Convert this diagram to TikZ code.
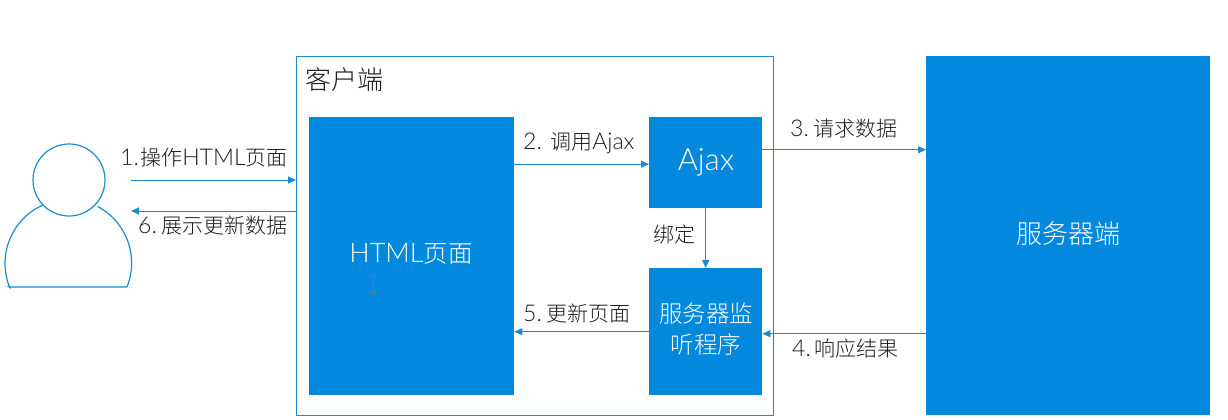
\documentclass[tikz,border=0pt]{standalone}
\usepackage{fontspec}
\setmainfont{Lato Light}[Scale=1.1]
\newfontfamily\cjk{Noto Sans CJK SC Light}
\usetikzlibrary{arrows.meta}
\definecolor{bluefill}{HTML}{0288DC}
\definecolor{blueline}{HTML}{1A8BD2}
\definecolor{ink}{HTML}{1C1C1C}
\tikzset{
  x=1pt,y=-1pt,
  solid box/.style={fill=bluefill,draw=none,inner sep=0pt,text=white,align=center,anchor=north west},
  label text/.style={text=ink,inner sep=0pt,font=\fontsize{21}{23}\selectfont},
  link/.style={draw=blueline,line width=1pt,-{Triangle[length=8pt,width=7pt]}},
  outline/.style={draw=blueline,line width=1pt},
}
\begin{document}
\begin{tikzpicture}
\useasboundingbox (0,0) rectangle (1228,420);
\node[outline,inner sep=0pt,minimum width=477pt,minimum height=359pt,anchor=north west] (client) at (296,56) {};
\node[text=ink,inner sep=0pt,font=\fontsize{26}{28}\selectfont\cjk] (clientlabel) at (344.5,79.5) {客户端};
\node[solid box,minimum width=205pt,minimum height=278pt] (html) at (309,117) {};
\node[text=white,inner sep=0pt,font=\fontsize{24.5}{26}\selectfont] (htmllabel) at (411,254) {HTML{\cjk 页面}};
\node[solid box,minimum width=113pt,minimum height=91pt] (ajax) at (649,117) {};
\node[text=white,inner sep=0pt,font=\fontsize{28}{30}\selectfont] (ajaxlabel) at (706,162) {Ajax};
\node[solid box,minimum width=113pt,minimum height=127pt] (listener) at (649,268) {};
\node[text=white,inner sep=0pt,align=center,font=\fontsize{23.5}{30.5}\selectfont\cjk] (listenerlabel) at (706,329) {服务器监\\听程序};
\node[solid box,minimum width=284pt,minimum height=359pt] (server) at (926,56) {};
\node[text=white,inner sep=0pt,font=\fontsize{26}{28}\selectfont\cjk] (serverlabel) at (1068,234) {服务器端};
% person
\draw[outline,line width=1.2pt] (43,205) arc[start angle=-114,end angle=-202,radius=64] -- (9,287) -- (127,287);
\draw[outline,line width=1.2pt] (127,287) arc[start angle=22,end angle=-62,radius=64];
\node[circle,outline,line width=1.2pt,inner sep=0pt,minimum size=72pt] (head) at (69,180) {};
% connectors
\coordinate (userout) at (131,180);
\coordinate (userin) at (131,211);
\draw[link] (userout) -- (userout -| client.west);
\draw[link] (userin -| client.west) -- (userin);
\draw[link] ([yshift=-1.5pt]html.east |- ajax.west) -- ([yshift=-1.5pt]ajax.west);
\draw[link] ([yshift=13pt]ajax.east) -- ([yshift=13pt]ajax.east -| server.west);
\draw[link] (ajax.south) -- (listener.north);
\draw[link] (listener.west) -- (listener.west -| html.east);
\draw[link] ([yshift=-2pt]listener.east -| server.west) -- ([yshift=-2pt]listener.east);
% labels
\node[label text,anchor=west] (l1) at (120,158) {1.\kern-5pt\ {\cjk 操作}HTML{\cjk 页面}};
\node[label text,anchor=west] (l6) at (138,226) {6.\kern-2pt\ {\cjk 展示更新数据}};
\node[label text,anchor=west] (l2) at (523,143) {2.\kern2pt\ {\cjk 调用}Ajax};
\node[label text,anchor=west] (l3) at (790,129) {3.\kern-1.5pt\ {\cjk 请求数据}};
\node[label text,anchor=west] (l4) at (792,349) {4.\kern-3pt\ {\cjk 响应结果}};
\node[label text,anchor=west] (l5) at (523,314) {5.\kern-2pt\ {\cjk 更新页面}};
\node[label text,anchor=west] (bind) at (653.5,235) {\cjk 绑定};
% text cursor
\draw[draw=gray!90!black,line width=1pt] (370,275.5) -- (376,275.5) (373,275.5) -- (373,292) (370,292) -- (376,292);
\end{tikzpicture}
\end{document}
